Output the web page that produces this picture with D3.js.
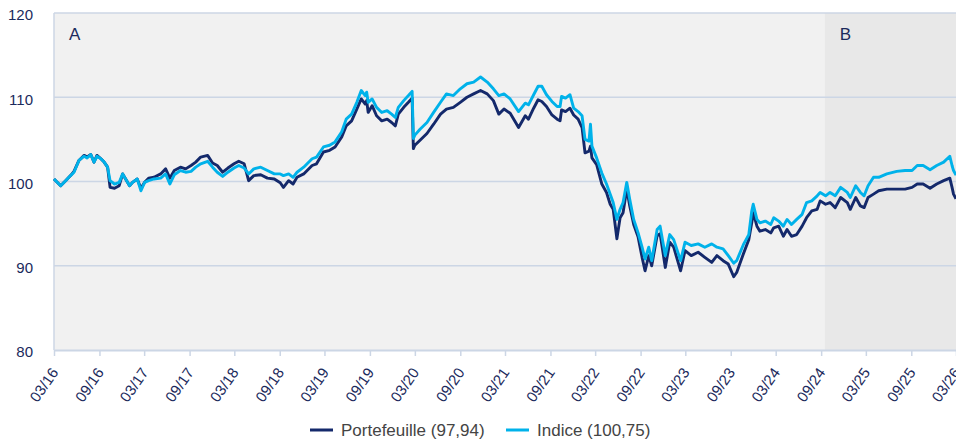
<!DOCTYPE html>
<html><head><meta charset="utf-8">
<script src="https://cdn.jsdelivr.net/npm/d3@7"></script>
<style>body{margin:0;background:#fff} svg{display:block;font-family:"Liberation Sans",Arial,sans-serif}</style>
</head><body><svg id="c" width="956" height="439"></svg>
<script>
const dates = [
"2016-03-01","2016-03-28","2016-04-17","2016-05-07","2016-05-21","2016-06-10","2016-07-01","2016-07-13","2016-07-28","2016-08-10",
"2016-08-22","2016-09-07","2016-09-20","2016-10-04","2016-10-14","2016-11-01","2016-11-20","2016-12-04","2016-12-16","2017-01-01",
"2017-01-13","2017-02-01","2017-02-16","2017-03-03","2017-03-19","2017-04-10","2017-05-07","2017-05-27","2017-06-13","2017-07-01",
"2017-07-26","2017-08-16","2017-09-07","2017-09-26","2017-10-16","2017-11-13","2017-12-03","2017-12-22","2018-01-13","2018-02-03",
"2018-02-28","2018-03-19","2018-04-10","2018-04-28","2018-05-19","2018-06-16","2018-07-13","2018-08-10",
"2018-09-03","2018-09-16","2018-10-07","2018-10-25","2018-11-10","2018-12-07","2019-01-10","2019-01-28","2019-02-25","2019-03-22",
"2019-04-13","2019-05-10","2019-05-28","2019-06-19","2019-07-10","2019-07-28","2019-08-13","2019-08-19","2019-08-25","2019-09-10",
"2019-09-28","2019-10-19","2019-11-10","2019-11-28","2019-12-13","2019-12-25","2020-01-16","2020-02-04","2020-02-19","2020-02-24",
"2020-03-01","2020-03-22","2020-04-19","2020-05-16","2020-06-13","2020-07-07","2020-08-04","2020-09-01","2020-09-28","2020-10-25",
"2020-11-22","2020-12-19","2021-01-13","2021-02-04","2021-02-25","2021-03-22",
"2021-04-25","2021-05-22","2021-06-04","2021-06-25","2021-07-13","2021-07-28","2021-08-16","2021-09-07","2021-09-28","2021-10-10",
"2021-10-16","2021-11-01","2021-11-19","2021-12-04","2021-12-22","2022-01-07","2022-01-19","2022-02-04","2022-02-10","2022-02-16",
"2022-03-07","2022-03-28","2022-04-16","2022-05-01","2022-05-13","2022-05-28","2022-06-10","2022-06-22","2022-07-07","2022-07-19",
"2022-08-04","2022-08-22","2022-09-07","2022-09-19","2022-10-04","2022-10-16","2022-11-07","2022-11-19","2022-12-10","2022-12-28",
"2023-01-13","2023-02-10","2023-02-28","2023-03-25","2023-04-22","2023-05-19","2023-06-16","2023-07-07","2023-08-01","2023-08-22",
"2023-09-13","2023-09-25","2023-10-22","2023-11-13","2023-11-25","2023-12-01","2023-12-16","2023-12-28","2024-01-19","2024-02-10",
"2024-02-22","2024-03-13","2024-04-01","2024-04-16","2024-05-04","2024-05-25","2024-06-16","2024-07-04","2024-07-25","2024-08-16",
"2024-08-28","2024-09-19","2024-10-07","2024-10-28","2024-11-19","2024-12-16","2024-12-28","2025-01-19","2025-02-07","2025-02-22",
"2025-03-10","2025-04-01","2025-04-22","2025-05-25","2025-07-04","2025-08-07","2025-09-04","2025-09-25","2025-10-19","2025-11-16",
"2025-12-13","2026-01-10","2026-02-04","2026-02-13","2026-02-19","2026-03-01"
];
const portefeuille = [
100.3,99.5,100.1,100.7,101.2,102.5,103.1,102.9,103.2,102.3,
103.1,102.7,102.3,101.7,99.3,99.2,99.5,100.9,100.3,99.5,
99.9,100.3,99.2,99.9,100.4,100.5,100.9,101.5,100.4,101.3,
101.7,101.5,101.9,102.3,102.9,103.1,102.2,101.9,101.1,101.6,
102.1,102.4,102.1,100.1,100.7,100.8,100.4,100.3,
99.85,99.3,100.1,99.7,100.5,100.9,101.9,102.1,103.5,103.7,
104.1,105.3,106.6,107.2,108.6,109.8,109.2,109.6,108.2,109.0,
107.8,107.2,107.4,107.0,106.6,108.0,108.8,109.4,109.9,103.9,
104.3,104.9,105.7,106.8,108.0,108.6,108.8,109.4,110.0,110.4,
110.8,110.4,109.6,108.0,108.6,108.1,
106.4,107.8,107.4,108.7,109.7,109.5,108.9,107.9,107.4,107.2,
108.5,108.3,108.7,107.9,107.4,106.4,103.4,103.6,104.2,102.8,
102.0,99.7,98.7,97.3,96.7,93.2,95.7,96.3,99.1,97.1,
94.9,93.4,91.0,89.4,91.2,90.0,93.6,93.8,89.8,92.8,
92.2,89.4,91.8,91.2,91.6,91.0,90.4,91.2,90.6,90.2,
88.7,89.2,91.4,93.1,95.1,96.3,94.7,94.1,94.3,93.9,
94.5,94.7,93.5,94.3,93.5,93.7,94.7,95.7,96.5,96.7,
97.7,97.3,97.5,96.9,98.1,97.5,96.7,98.1,97.1,96.9,
98.1,98.5,98.9,99.1,99.1,99.1,99.3,99.7,99.7,99.2,
99.7,100.1,100.4,99.3,98.5,97.94
];
const indice = [
100.3,99.5,100.1,100.7,101.1,102.5,103.0,102.8,103.2,102.3,
103.0,102.7,102.3,101.7,100.1,99.7,99.9,100.9,100.3,99.5,
99.9,100.3,98.9,99.9,100.1,100.3,100.4,100.9,99.7,100.8,
101.3,101.1,101.2,101.7,102.1,102.4,101.7,101.1,100.6,101.1,
101.6,101.9,101.6,100.9,101.5,101.7,101.3,100.9,
100.9,100.7,100.9,100.5,101.1,101.7,102.7,102.9,104.1,104.3,
104.7,105.9,107.4,108.0,109.4,110.8,110.2,110.6,109.4,109.8,
108.8,108.2,108.4,108.0,107.6,108.8,109.6,110.2,110.7,105.1,
105.5,106.2,107.0,108.2,109.4,110.4,110.2,111.0,111.6,111.8,
112.4,111.8,111.0,110.2,110.4,109.8,
108.3,109.3,109.1,110.3,111.3,111.3,110.3,109.5,108.9,108.9,
110.1,109.9,110.3,108.7,108.3,107.8,105.0,104.8,106.8,104.2,
102.8,101.0,99.7,98.5,97.5,95.5,96.7,97.5,99.9,97.9,
95.5,93.9,92.2,90.8,92.2,90.6,94.3,94.7,91.2,93.7,
93.1,90.6,92.8,92.4,92.6,92.2,92.6,92.2,92.0,91.2,
90.3,90.6,92.5,93.7,96.5,97.3,95.5,95.1,95.3,94.9,
95.7,95.3,94.7,95.5,94.9,95.5,96.1,97.5,97.7,98.3,
98.7,98.3,98.7,98.3,99.3,98.7,98.1,99.5,98.7,98.3,
99.5,100.5,100.5,100.9,101.2,101.3,101.3,101.9,101.9,101.4,
101.9,102.3,103.0,101.9,101.3,100.75
];
const seriesNames = ["Portefeuille (97,94)", "Indice (100,75)"];
const seriesColors = ["#14296b", "#00b2ea"];
const yTicks = [80, 90, 100, 110, 120];
const periodLabels = ["A", "B"];
const periodStarts = ["2016-03-01", "2024-09-16"];
const domainDates = ["2016-03-01", "2026-03-01"];

const parse = d3.utcParse("%Y-%m-%d");
const svg = d3.select("#c");
const L = 54, R = 956, T = 13, B = 350;
const x = d3.scaleUtc().domain(domainDates.map(parse)).range([L, R]);
const y = d3.scaleLinear().domain([80, 120]).range([B, T]);
const gridColor = "#ccd6e5";
const navy = "#1b2a5c";

// backgrounds
svg.append("rect").attr("x", L).attr("y", T).attr("width", R - L).attr("height", B - T).attr("fill", "#f1f1f1");
svg.append("rect").attr("x", x(parse(periodStarts[1]))).attr("y", T)
  .attr("width", R - x(parse(periodStarts[1]))).attr("height", B - T).attr("fill", "#e8e8e8");

// grid
svg.append("g").selectAll("line").data(yTicks.filter(t => t !== 80)).join("line")
  .attr("x1", L).attr("x2", R).attr("y1", d => y(d)).attr("y2", d => y(d))
  .attr("stroke", gridColor).attr("stroke-width", 1.5);

// y axis labels
const ya = svg.append("g").attr("transform", `translate(${L},0)`)
  .call(d3.axisLeft(y).tickValues(yTicks).tickSize(0).tickPadding(21));
ya.select(".domain").remove();
ya.selectAll("text").attr("fill", navy).attr("font-size", 15).attr("dy", "0.45em")
  .attr("font-family", '"Liberation Sans", Arial, sans-serif');

// left axis line
svg.append("line").attr("x1", L).attr("x2", L).attr("y1", T).attr("y2", B)
  .attr("stroke", gridColor).attr("stroke-width", 1.5);

// x axis
const xTicks = d3.utcMonth.range(parse(domainDates[0]), d3.utcDay.offset(parse(domainDates[1]), 1))
  .filter(d => d.getUTCMonth() % 6 === 2);
const xa = svg.append("g").attr("transform", `translate(0,${B})`)
  .call(d3.axisBottom(x).tickValues(xTicks).tickFormat(d3.utcFormat("%m/%y")).tickSize(6).tickSizeOuter(0));
xa.select(".domain").attr("stroke", gridColor).attr("stroke-width", 2);
xa.selectAll(".tick line").attr("stroke", gridColor).attr("stroke-width", 1.5);
xa.selectAll("text").attr("fill", navy).attr("font-size", 15)
  .attr("font-family", '"Liberation Sans", Arial, sans-serif')
  .attr("text-anchor", "end").attr("y", null).attr("dy", null)
  .attr("transform", "translate(4.5,22.5) rotate(-55)");

// period labels
svg.append("g").selectAll("text").data(periodLabels).join("text")
  .attr("x", (d, i) => x(parse(periodStarts[i])) + 15).attr("y", 40)
  .attr("fill", navy).attr("font-size", 17).text(d => d);

// lines
const data = [portefeuille, indice].map(vals => vals.map((v, i) => ({ date: parse(dates[i]), v })));
const line = d3.line().x(d => x(d.date)).y(d => y(d.v));
svg.append("g").selectAll("path").data(data).join("path")
  .attr("d", line).attr("fill", "none")
  .attr("stroke", (d, i) => seriesColors[i]).attr("stroke-width", 2.9)
  .attr("stroke-linejoin", "round");

// legend
const legX = [310, 506];
const lg = svg.append("g").selectAll("g").data(seriesNames).join("g")
  .attr("transform", (d, i) => `translate(${legX[i]},430)`);
lg.append("line").attr("x1", 0).attr("x2", 23).attr("stroke", (d, i) => seriesColors[i]).attr("stroke-width", 3);
lg.append("text").attr("x", 31).attr("y", 5.5).attr("font-size", 17).attr("fill", "#444").text(d => d);
</script></body></html>
